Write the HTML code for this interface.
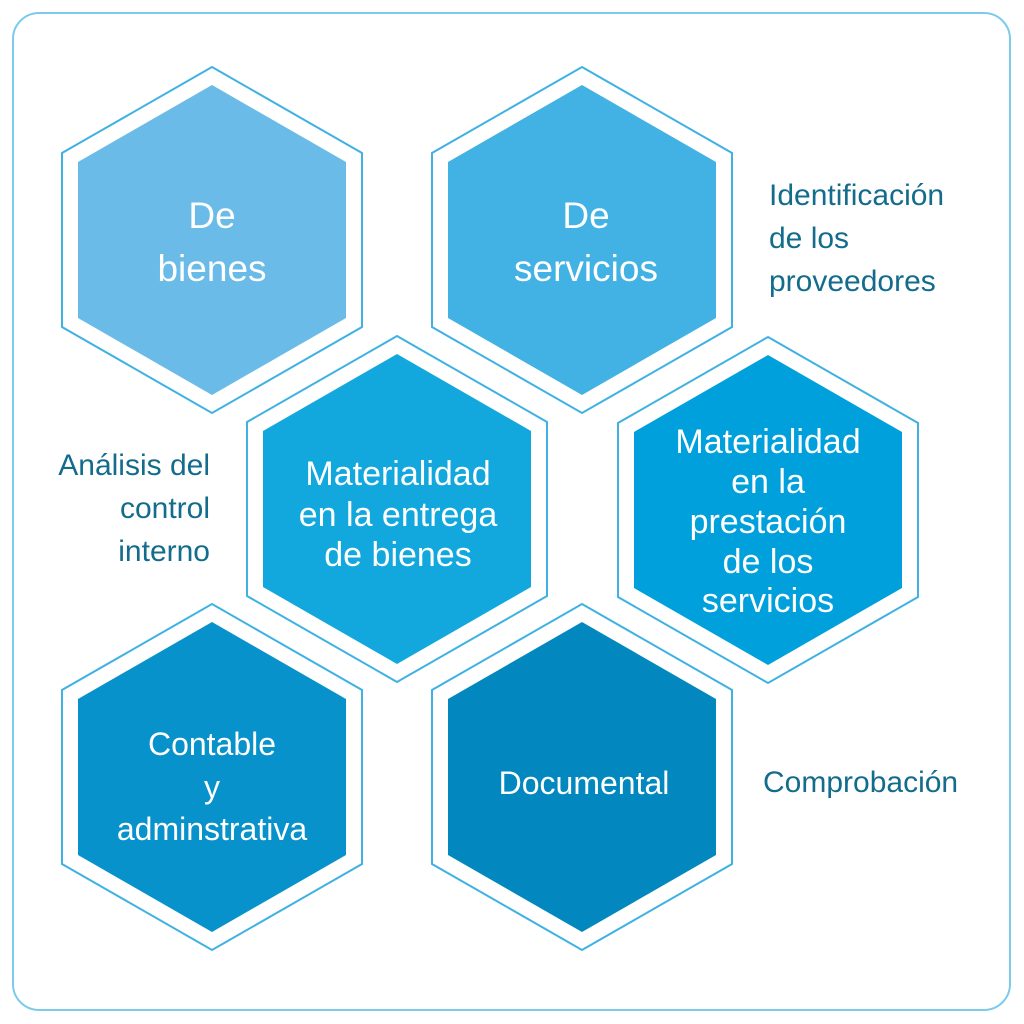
<!DOCTYPE html>
<html><head><meta charset="utf-8"><style>
html,body{margin:0;padding:0;background:#fff}
svg{display:block}
text{font-family:"Liberation Sans",sans-serif}
.w{fill:#fff;font-size:34px;text-anchor:middle}
.d{fill:#136c8c;font-size:30px}
</style></head><body>
<svg width="1024" height="1024" viewBox="0 0 1024 1024" xmlns="http://www.w3.org/2000/svg">
<rect x="13" y="13" width="997" height="997" rx="26" fill="#fff" stroke="#7ccbeb" stroke-width="2"/>
<defs>
<polygon id="o" points="0,-173 150,-87 150,87 0,173 -150,87 -150,-87" fill="#fff" stroke="#3fb1e2" stroke-width="2"/>
<polygon id="i" points="0,-155 134,-78 134,78 0,155 -134,78 -134,-78"/>
</defs>
<g transform="translate(212,240)"><use href="#o"/><use href="#i" fill="#6abbe7"/></g>
<g transform="translate(582,240)"><use href="#o"/><use href="#i" fill="#42b1e4"/></g>
<g transform="translate(397,509)"><use href="#o"/><use href="#i" fill="#12a8de"/></g>
<g transform="translate(768,510)"><use href="#o"/><use href="#i" fill="#00a0dc"/></g>
<g transform="translate(212,777)"><use href="#o"/><use href="#i" fill="#0892cb"/></g>
<g transform="translate(582,777)"><use href="#o"/><use href="#i" fill="#0288bf"/></g>

<text class="w" x="212" y="228" style="font-size:37px">De</text>
<text class="w" x="212" y="281" style="font-size:37px">bienes</text>
<text class="w" x="586" y="228" style="font-size:37px">De</text>
<text class="w" x="586" y="281" style="font-size:37px">servicios</text>
<text class="w" x="398" y="485">Materialidad</text>
<text class="w" x="398" y="526">en la entrega</text>
<text class="w" x="398" y="566">de bienes</text>
<text class="w" x="768" y="453">Materialidad</text>
<text class="w" x="768" y="493">en la</text>
<text class="w" x="768" y="533">prestación</text>
<text class="w" x="768" y="573">de los</text>
<text class="w" x="768" y="612">servicios</text>
<text class="w" x="212" y="755" style="font-size:32px">Contable</text>
<text class="w" x="212" y="798" style="font-size:32px">y</text>
<text class="w" x="212" y="840" style="font-size:32px">adminstrativa</text>
<text class="w" x="584" y="794" style="font-size:32px">Documental</text>

<text class="d" x="769" y="205">Identificación</text>
<text class="d" x="769" y="248">de los</text>
<text class="d" x="769" y="291">proveedores</text>
<text class="d" x="210" y="475" text-anchor="end">Análisis del</text>
<text class="d" x="210" y="518" text-anchor="end">control</text>
<text class="d" x="210" y="561" text-anchor="end">interno</text>
<text class="d" x="763" y="792">Comprobación</text>
</svg>
</body></html>
